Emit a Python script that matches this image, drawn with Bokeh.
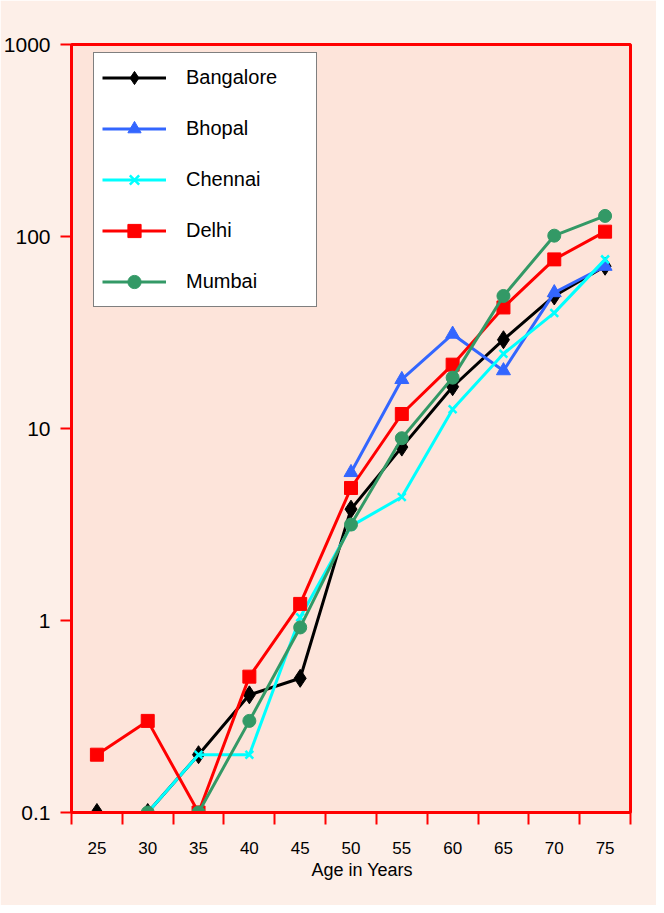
import math
from bokeh.plotting import figure
from bokeh.models import Range1d, FixedTicker, Legend, LegendItem, Title
from bokeh.embed import file_html
from bokeh.resources import INLINE

nan = float("nan")

ages = [25, 30, 35, 40, 45, 50, 55, 60, 65, 70, 75]
bangalore = [0.1, 0.1, 0.2, 0.41, 0.5, 3.8, 8.0, 16.5, 29, 49, 70]
bhopal = [nan, nan, nan, nan, nan, 5.9, 18, 31, 20, 51, 70]
chennai = [nan, 0.1, 0.2, 0.2, 1.04, 3.1, 4.4, 12.6, 24.5, 40, 76]
delhi = [0.2, 0.3, 0.1, 0.51, 1.22, 4.9, 11.9, 21.5, 42.7, 76, 106]
mumbai = [nan, 0.1, 0.1, 0.3, 0.92, 3.16, 8.9, 18.4, 49, 101, 128]

series_names = ["Bangalore", "Bhopal", "Chennai", "Delhi", "Mumbai"]
series_values = [bangalore, bhopal, chennai, delhi, mumbai]
series_colors = ["#000000", "#3366FF", "#00FFFF", "#FF0000", "#339966"]
series_markers = ["diamond", "triangle", "x", "square", "circle"]
series_sizes = [18, 14, 11, 13, 13]

y_ticks = [0.1, 1, 10, 100, 1000]
y_tick_labels = ["0.1", "1", "10", "100", "1000"]
x_tick_labels = [str(a) for a in ages]

FONT = "Liberation Sans"
OUTER = "#FDEFE8"
INNER = "#FDE4DA"

step = ages[1] - ages[0]
x_lo = ages[0] - step / 2
x_hi = ages[-1] + step / 2

p = figure(
    width=656, height=905,
    y_axis_type="log",
    x_range=Range1d(x_lo, x_hi),
    y_range=Range1d(y_ticks[0], y_ticks[-1]),
    output_backend="svg",
    toolbar_location=None,
    background_fill_color=INNER,
    border_fill_color=OUTER,
    min_border_left=70, min_border_right=26,
    min_border_top=44, min_border_bottom=93,
)
p.outline_line_color = "#FF0000"
p.outline_line_width = 3
p.xgrid.visible = False
p.ygrid.visible = False

# x axis: labels at category centres, ticks at band boundaries
boundaries = [a - step / 2 for a in ages] + [ages[-1] + step / 2]
xa = p.xaxis[0]
xa.ticker = FixedTicker(ticks=ages, minor_ticks=boundaries)
xa.major_label_overrides = {a: lab for a, lab in zip(ages, x_tick_labels)}
xa.major_tick_line_color = None
xa.major_tick_out = 12
xa.major_tick_in = 0
xa.minor_tick_line_color = "#FF0000"
xa.minor_tick_line_width = 2
xa.minor_tick_out = 12
xa.minor_tick_in = 0
xa.axis_line_color = "#FF0000"
xa.axis_line_width = 3
xa.major_label_text_font = FONT
xa.major_label_text_font_size = "17px"
xa.major_label_text_color = "#000000"
xa.major_label_standoff = 17

ya = p.yaxis[0]
ya.ticker = FixedTicker(ticks=y_ticks, minor_ticks=[])
ya.major_label_overrides = {t: lab for t, lab in zip(y_ticks, y_tick_labels)}
ya.major_tick_line_color = "#FF0000"
ya.major_tick_line_width = 2
ya.major_tick_out = 11
ya.major_tick_in = 0
ya.minor_tick_line_color = None
ya.axis_line_color = "#FF0000"
ya.axis_line_width = 3
ya.major_label_text_font = FONT
ya.major_label_text_font_size = "21px"
ya.major_label_text_color = "#000000"
ya.major_label_standoff = 10

items = []
for name, vals, col, mk, sz in zip(series_names, series_values, series_colors,
                                   series_markers, series_sizes):
    rl = p.line(ages, vals, line_color=col, line_width=3)
    rs = p.scatter(ages, vals, marker=mk, size=sz, fill_color=col,
                   line_color=col, line_width=2.5 if mk == "x" else 1)
    items.append(LegendItem(label=name, renderers=[rl, rs]))

legend = Legend(
    items=items,
    location=(22, 505),
    background_fill_color="#FFFFFF",
    background_fill_alpha=1.0,
    border_line_color="#000000",
    border_line_width=1.2,
    padding=8,
    spacing=18,
    margin=0,
    glyph_width=64,
    glyph_height=33,
    label_height=33,
    label_width=122,
    label_standoff=20,
    label_text_font=FONT,
    label_text_font_size="20px",
    label_text_color="#000000",
)
p.add_layout(legend, "center")

title = Title(text="Age in Years", align="left", offset=240,
              text_font=FONT, text_font_size="18px",
              text_font_style="normal", text_color="#000000", standoff=3)
p.add_layout(title, "below")

open("out.html", "w").write(file_html(p, INLINE))
